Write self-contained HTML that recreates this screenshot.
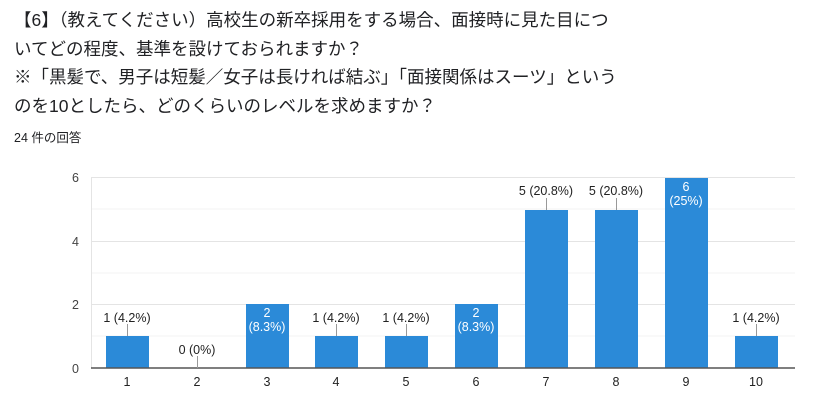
<!DOCTYPE html>
<html><head><meta charset="utf-8"><style>
body{margin:0;width:818px;height:402px;background:#fff;overflow:hidden;font-family:"Liberation Sans","Noto Sans CJK JP",sans-serif;}
.t{position:absolute;left:14px;top:6px;font-size:17.5px;line-height:28.5px;color:#202124;white-space:nowrap;}
.c{position:absolute;left:14px;top:127px;font-size:12.5px;color:#202124;}
svg{position:absolute;left:0;top:0}
</style></head><body>
<div class="t">【6】（教えてください）高校生の新卒採用をする場合、面接時に見た目につ<br>いてどの程度、基準を設けておられますか？<br>※「黒髪で、男子は短髪／女子は長ければ結ぶ」「面接関係はスーツ」という<br>のを10としたら、どのくらいのレベルを求めますか？</div>
<div class="c">24 件の回答</div>
<svg width="818" height="402" font-family="Liberation Sans, sans-serif" font-size="12.5">
<g stroke="#f3f3f3"><line x1="91" x2="795" y1="209" y2="209"/><line x1="91" x2="795" y1="273" y2="273"/><line x1="91" x2="795" y1="336" y2="336"/></g>
<g stroke="#e4e4e4"><line x1="91" x2="795" y1="177.5" y2="177.5"/><line x1="91" x2="795" y1="241.5" y2="241.5"/><line x1="91" x2="795" y1="304.5" y2="304.5"/><line x1="91.5" x2="91.5" y1="177" y2="368"/></g>
<g fill="#444" text-anchor="end"><text x="79" y="182">6</text><text x="79" y="246">4</text><text x="79" y="309">2</text><text x="79" y="373">0</text></g>
<g fill="#2b8ad8">
<rect x="106" y="336" width="43" height="32"/>
<rect x="246" y="304" width="43" height="64"/>
<rect x="315" y="336" width="43" height="32"/>
<rect x="385" y="336" width="43" height="32"/>
<rect x="455" y="304" width="43" height="64"/>
<rect x="525" y="210" width="43" height="158"/>
<rect x="595" y="210" width="43" height="158"/>
<rect x="665" y="178" width="43" height="190"/>
<rect x="735" y="336" width="43" height="32"/>
</g>
<line x1="91" x2="795" y1="368" y2="368" stroke="#555" stroke-width="1.5"/>
<g stroke="#999"><line x1="127.5" x2="127.5" y1="324" y2="336"/><line x1="197.5" x2="197.5" y1="356" y2="368"/><line x1="336.5" x2="336.5" y1="324" y2="336"/><line x1="406.5" x2="406.5" y1="324" y2="336"/><line x1="546.5" x2="546.5" y1="198" y2="210"/><line x1="616.5" x2="616.5" y1="198" y2="210"/><line x1="756.5" x2="756.5" y1="324" y2="336"/></g>
<g fill="#222" text-anchor="middle">
<text x="127" y="322">1 (4.2%)</text><text x="197" y="354">0 (0%)</text><text x="336" y="322">1 (4.2%)</text><text x="406" y="322">1 (4.2%)</text>
<text x="546" y="195">5 (20.8%)</text><text x="616" y="195">5 (20.8%)</text><text x="756" y="322">1 (4.2%)</text>
</g>
<g fill="#fff" text-anchor="middle">
<text x="267" y="317">2</text><text x="267" y="331">(8.3%)</text>
<text x="476" y="317">2</text><text x="476" y="331">(8.3%)</text>
<text x="686" y="191">6</text><text x="686" y="205">(25%)</text>
</g>
<g fill="#222" text-anchor="middle"><text x="127" y="386">1</text><text x="197" y="386">2</text><text x="267" y="386">3</text><text x="336" y="386">4</text><text x="406" y="386">5</text><text x="476" y="386">6</text><text x="546" y="386">7</text><text x="616" y="386">8</text><text x="686" y="386">9</text><text x="756" y="386">10</text></g>
</svg>
</body></html>
